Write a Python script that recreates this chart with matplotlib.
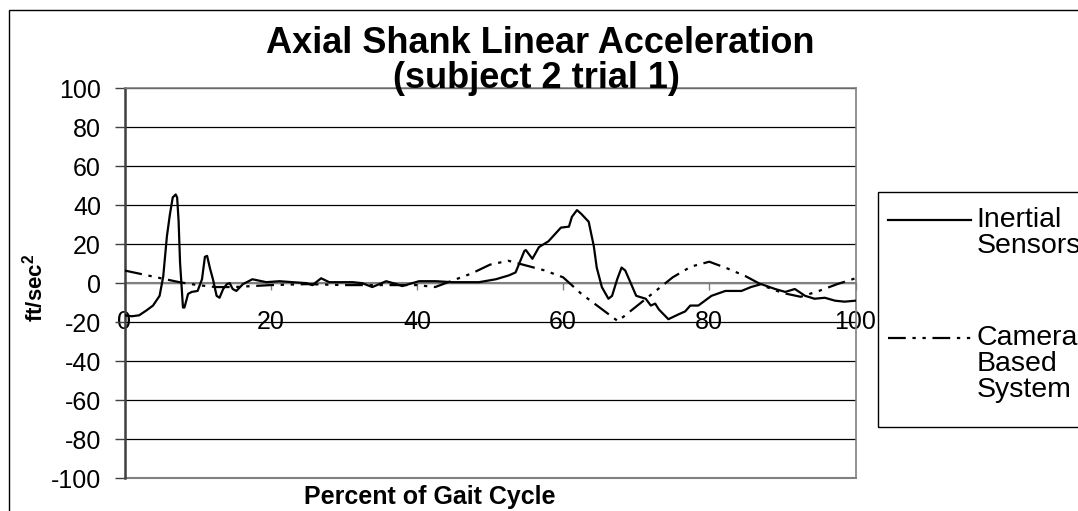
import numpy as np
import matplotlib
matplotlib.use("Agg")
import matplotlib.pyplot as plt
from matplotlib.patches import Rectangle
from matplotlib.lines import Line2D

plt.rcParams['font.family'] = ['Liberation Sans', 'DejaVu Sans']
plt.rcParams['mathtext.fontset'] = 'custom'
plt.rcParams['mathtext.bf'] = 'Liberation Sans:bold'
plt.rcParams['mathtext.rm'] = 'Liberation Sans'
plt.rcParams['axes.unicode_minus'] = False

# percent of gait cycle vs axial acceleration (ft/sec^2)
inertial_pct = [0, 1, 2, 3, 3.9, 4.8, 5.3, 5.8, 6.2, 6.6, 7.0, 7.2, 7.4, 7.6, 8.0, 8.2,
                8.7, 9.2, 10.0, 10.6, 11.0, 11.3, 11.7, 12.1, 12.6, 13.0, 13.5, 14.0,
                14.4, 14.8, 15.3, 16.2, 17.5, 19.4, 21.2, 23, 24.9, 25.7, 26.9, 28,
                29.4, 31.2, 32.5, 33.9, 35.8, 37.2, 38, 40.3, 42.6, 44.8, 48.5, 50.8,
                52.6, 53.5, 54.7, 54.9, 55.8, 56.7, 58, 59.7, 60.8, 61.2, 61.9, 62.5,
                63.5, 64.2, 64.6, 65.3, 66.2, 66.7, 67.4, 68.0, 68.5, 69.2, 70.0, 71.3,
                72.0, 72.6, 73.1, 74.4, 75.8, 76.7, 77.4, 78.5, 80.3, 82.2, 84.4, 85.7,
                87.1, 89, 90.4, 91.7, 93.1, 94.4, 95.8, 97.2, 98.5, 100]
inertial_acc = [-16.5, -17, -16.5, -14, -11.5, -6.5, 3.5, 24, 35, 44, 45.5, 44, 32, 10.5,
                -12.5, -12.5, -5.5, -4.5, -4, 2, 13.5, 14, 7.5, 2, -6.5, -7.5, -3, -0.5,
                0, -3, -4, -0.5, 2, 0.5, 1, 0.5, 0, -1, 2.5, 0.5,
                0.5, 0.5, 0, -2, 1, -0.5, -1.5, 1, 1, 0.5, 0.5, 2,
                4, 5.5, 16.5, 17, 12.5, 18.5, 21.5, 28.5, 29, 34, 37.5, 35.5,
                31.5, 19, 8, -2, -8, -6.5, 2, 8, 6.5, 0.5, -6.5, -8,
                -11.5, -10.5, -13.5, -18.5, -16, -14.5, -11.5, -11.5, -6.5, -4, -4, -2,
                -0.5, -3, -4.5, -3, -6.5, -8, -7.5, -9, -9.5, -9]

camera_pct = [0, 2.5, 5, 7.5, 10, 12.5, 15, 20, 25, 30, 35, 40, 42.5, 45, 47.5, 50, 52.5,
              55, 57.5, 60, 62.5, 65, 67.5, 70, 72.5, 75, 77.5, 80, 82.5, 85, 87.5, 90,
              92.5, 95, 97.5, 100]
camera_acc = [6.5, 4.5, 2.5, 0.5, -1, -2, -2, -1, -0.5, -1, -1, -1, -2, 1.5, 5, 9.5, 11.5,
              9, 6.5, 3, -5.5, -12.5, -19.5, -12, -4.5, 3, 8.5, 11, 7.5, 3.5, -1.5, -5,
              -7, -4, -0.5, 2.5]

labels = ['Inertial\nSensors', 'Camera\nBased\nSystem']

W, H = 1078, 511
fig = plt.figure(figsize=(W / 100, H / 100), dpi=100)
ax = fig.add_axes([124.5 / W, 1 - 478 / H, 731 / W, (478 - 88.3) / H])

camera_dashes = (8, 3, 1.5, 3, 1.5, 3)
ax.plot(inertial_pct, inertial_acc, color='black', lw=1.6, zorder=4)
ax.plot(camera_pct, camera_acc, color='black', lw=1.6, zorder=3, dashes=camera_dashes)

ax.set_xlim(0, 100)
ax.set_ylim(-100, 100)
ax.set_yticks(range(-100, 101, 20))
ax.set_xticks(range(0, 101, 20))

ax.yaxis.grid(True, color='black', lw=0.9, zorder=1)
ax.set_axisbelow(True)

grey = '#808080'
for s in ['top', 'right']:
    ax.spines[s].set_color(grey)
    ax.spines[s].set_linewidth(1.2)
ax.spines['left'].set_color('#404040')
ax.spines['left'].set_linewidth(1.8)
ax.spines['bottom'].set_position(('data', 0))
ax.spines['bottom'].set_color(grey)
ax.spines['bottom'].set_linewidth(1.5)
ax.spines['bottom'].set_zorder(2)
ax.axhline(-100, color=grey, lw=1.5, clip_on=False, zorder=2)

ax.tick_params(axis='y', direction='out', length=7, width=1, color='#404040',
               labelsize=18, pad=10)
ax.tick_params(axis='x', direction='out', length=5, width=1, color=grey,
               labelsize=18, pad=14)

fig.text(540 / W, 1 - 43 / H, 'Axial Shank Linear Acceleration', ha='center',
         va='center', fontsize=26, fontweight='bold')
fig.text(536 / W, 1 - 78 / H, '(subject 2 trial 1)', ha='center', va='center',
         fontsize=26, fontweight='bold')
fig.text(430 / W, 1 - 497 / H, 'Percent of Gait Cycle', ha='center', va='center',
         fontsize=18, fontweight='bold')
fig.text(35 / W, 1 - 288 / H, r'ft/sec$^{\mathbf{2}}$', ha='center', va='center',
         rotation=90, fontsize=16, fontweight='bold')

# leading blank lines keep each legend line level with the first row of its label
handles = [Line2D([], [], color='black', lw=1.6),
           Line2D([], [], color='black', lw=1.6, dashes=camera_dashes)]
padded = ['\n' * lab.count('\n') + lab for lab in labels]
leg = ax.legend(handles, padded, loc='upper left',
                bbox_to_anchor=(888 / W, 1 - 181 / H),
                bbox_transform=fig.transFigure, fontsize=20.5, frameon=False,
                handlelength=2.9, handletextpad=0.2, labelspacing=0.5,
                borderpad=0, borderaxespad=0)
for t in leg.get_texts():
    t.set_linespacing(1.0)
fig.patches.append(Rectangle((878 / W, 1 - 427 / H), 0.5, (427 - 192) / H,
                             transform=fig.transFigure, fill=False, ec='black', lw=1))

fig.patches.append(Rectangle((9 / W, -0.2), 1.2, 1.2 - 10 / H, transform=fig.transFigure,
                             fill=False, ec='black', lw=1))

fig.savefig('out.png', dpi=100)
